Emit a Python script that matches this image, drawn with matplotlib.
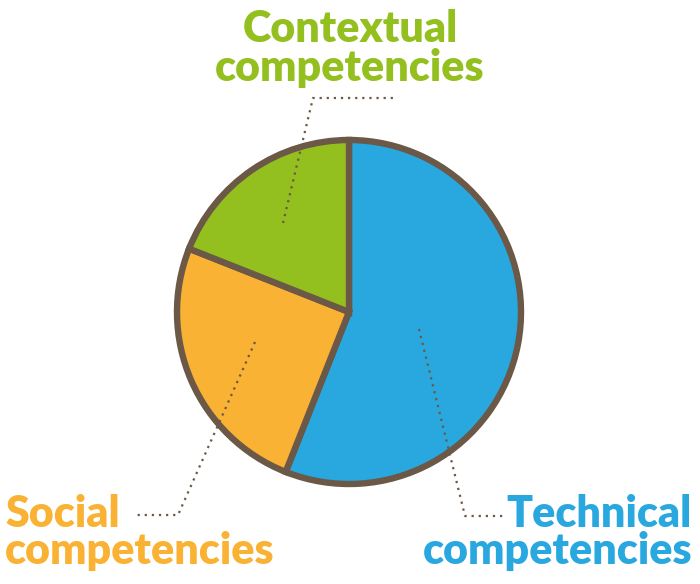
import matplotlib.pyplot as plt

# shares of each competency group
labels = ["Technical\ncompetencies", "Social\ncompetencies", "Contextual\ncompetencies"]
shares = [56, 25, 19]
colors = ["#29a8e0", "#f9b233", "#93c01f"]
edge_color = "#6b5847"

plt.rcParams["font.family"] = ["Lato", "DejaVu Sans"]

H = 584  # figure height in px, used to flip y


def fy(y):
    return H - y


fig = plt.figure(figsize=(7, 5.84), dpi=100)
ax = fig.add_axes([0, 0, 1, 1])

ax.pie(
    shares,
    colors=colors,
    startangle=90,
    counterclock=False,
    center=(349, fy(312)),
    radius=172,
    wedgeprops=dict(edgecolor=edge_color, linewidth=4.6),
    frame=True,
)
ax.set_xlim(0, 700)
ax.set_ylim(0, H)
ax.set_aspect("equal")
ax.axis("off")

dot = dict(color=edge_color, linestyle=(0, (1, 2.2)), linewidth=1.6)

# leader lines
ax.plot([283, 313, 393], [fy(223), fy(98), fy(98)], **dot)
ax.plot([255, 178, 135], [fy(342), fy(515), fy(515)], **dot)
ax.plot([419, 465, 505], [fy(329), fy(516), fy(516)], **dot)

font = dict(fontsize=31, fontweight="heavy")

# Contextual, centred at the top
top, bottom = labels[2].split("\n")
ax.text(350, fy(42), top, color=colors[2], ha="center", va="baseline", **font)
ax.text(350, fy(81), bottom, color=colors[2], ha="center", va="baseline", **font)

# Social, bottom left
top, bottom = labels[1].split("\n")
ax.text(5, fy(527), top, color=colors[1], ha="left", va="baseline", **font)
ax.text(5, fy(564), bottom, color=colors[1], ha="left", va="baseline", **font)

# Technical, bottom right
top, bottom = labels[0].split("\n")
ax.text(692, fy(527), top, color=colors[0], ha="right", va="baseline", **font)
ax.text(692, fy(564), bottom, color=colors[0], ha="right", va="baseline", **font)

plt.savefig("out.png", dpi=100)
